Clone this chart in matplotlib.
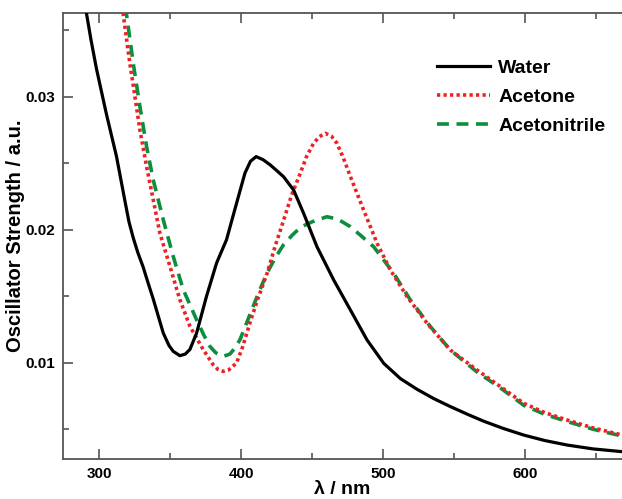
import matplotlib
matplotlib.use("Agg")
import matplotlib.pyplot as plt
from matplotlib.ticker import MultipleLocator, FixedLocator
from matplotlib import font_manager

# ---- data ----
water_x = [290.0, 294.0, 297.9, 304.9, 312.0, 317.9, 320.8, 323.8, 327.0, 330.8, 334.0,
           337.9, 345.0, 349.0, 352.0, 356.7, 360.5, 363.8, 368.5, 375.5, 382.6, 389.6,
           396.7, 402.6, 406.5, 410.5, 415.5, 420.5, 425.0, 429.9, 436.9, 444.0, 453.4,
           465.2, 477.0, 488.7, 500.5, 512.3, 524.0, 535.8, 547.5, 560.0, 571.0, 585.0,
           599.2, 614.0, 629.8, 648.0, 668.8]
water_y = [0.0368, 0.0343, 0.0321, 0.0287, 0.02552, 0.0222, 0.0206, 0.0194, 0.0183, 0.0172,
           0.0161, 0.0148, 0.01223, 0.01130, 0.01086, 0.01053, 0.01065, 0.0110, 0.01223,
           0.0150, 0.0175, 0.01925, 0.0220, 0.02426, 0.02515, 0.02550, 0.02526, 0.02487,
           0.02445, 0.02398, 0.02299, 0.02123, 0.01872, 0.01622, 0.01396, 0.01171, 0.00995,
           0.0088, 0.0080, 0.0073, 0.0067, 0.0061, 0.00560, 0.00505, 0.00456, 0.00415,
           0.00381, 0.00352, 0.00331]

acetone_x = [316.0, 321.4, 325.0, 328.5, 333.2, 337.9, 342.6, 349.7, 356.7, 363.8, 373.2,
             380.2, 383.5, 387.3, 391.0, 396.7, 401.0, 406.1, 412.0, 418.2, 424.0, 429.9,
             435.5, 441.6, 446.0, 451.0, 455.0, 459.3, 463.5, 467.5, 472.0, 477.0, 486.3,
             495.8, 505.2, 517.0, 531.1, 547.5, 566.3, 582.8, 599.2, 614.0, 629.8, 648.0,
             668.8]
acetone_y = [0.0368, 0.03253, 0.03003, 0.02752, 0.02477, 0.02226, 0.01975, 0.01725, 0.01474,
             0.01274, 0.01098, 0.00985, 0.00950, 0.00935, 0.00945, 0.00998, 0.01120, 0.0130,
             0.01490, 0.01672, 0.01880, 0.02073, 0.02260, 0.02424, 0.02550, 0.0265, 0.02700,
             0.02725, 0.02705, 0.0265, 0.02540, 0.02399, 0.02148, 0.01898, 0.01697, 0.01496,
             0.01296, 0.01095, 0.00945, 0.0082, 0.00695, 0.00625, 0.00569, 0.00510, 0.00456]

acn_x = [318.3, 323.8, 328.5, 333.2, 337.9, 345.0, 352.0, 359.1, 368.5, 373.5, 377.9,
         382.0, 387.3, 392.0, 395.5, 399.1, 406.4, 412.0, 418.0, 424.0, 430.0, 436.0,
         442.0, 450.0, 460.4, 468.0, 477.0, 485.0, 493.4, 507.5, 519.3, 533.4, 547.5,
         566.3, 582.8, 599.2, 614.0, 629.8, 648.0, 668.8]
acn_y = [0.0368, 0.03253, 0.02928, 0.02627, 0.02376, 0.02075, 0.018, 0.01549, 0.01323,
         0.01210, 0.01123, 0.01075, 0.01048, 0.01065, 0.01110, 0.01173, 0.0137, 0.0152,
         0.0167, 0.0179, 0.0189, 0.0196, 0.0202, 0.0206, 0.02098, 0.02080, 0.02023,
         0.01950, 0.01872, 0.01672, 0.01471, 0.01271, 0.01095, 0.0093, 0.0081, 0.0068,
         0.00612, 0.00558, 0.00500, 0.00448]

labels = ["Water", "Acetone", "Acetonitrile"]
x_ticks = [300, 400, 500, 600]
y_ticks = [0.01, 0.02, 0.03]
y_tick_labels = ["0.01", "0.02", "0.03"]

# ---- font ----
names = {f.name for f in font_manager.fontManager.ttflist}
fam = "Liberation Sans Narrow" if "Liberation Sans Narrow" in names else "Liberation Sans"
plt.rcParams["font.family"] = [fam, "DejaVu Sans"]
plt.rcParams["font.weight"] = "bold"

fig = plt.figure(figsize=(6.22, 4.99), dpi=100)
ax = fig.add_axes([63.3 / 622, 40 / 499, 1 - 63.3 / 622, (459 - 13) / 499])

l3, = ax.plot(acn_x, acn_y, color="#0b8f3e", lw=2.6, dashes=(3.3, 2.1), zorder=2)
l2, = ax.plot(acetone_x, acetone_y, color="#ee2024", lw=2.6, dashes=(0.9, 0.9), zorder=3)
l1, = ax.plot(water_x, water_y, color="black", lw=2.3, zorder=4)

ax.set_xlim(274.5, 668.5)
ax.set_ylim(0.00276, 0.0363)

ax.xaxis.set_major_locator(FixedLocator(x_ticks))
ax.xaxis.set_minor_locator(MultipleLocator(50))
ax.yaxis.set_major_locator(FixedLocator(y_ticks))
ax.set_yticklabels(y_tick_labels)
ax.yaxis.set_minor_locator(MultipleLocator(0.005))

spine_c = "#555555"
for s in ["left", "bottom", "top"]:
    ax.spines[s].set_color(spine_c)
    ax.spines[s].set_linewidth(1.3)
ax.spines["right"].set_visible(False)

ax.tick_params(which="both", direction="in", top=True, right=False, color=spine_c,
               width=1.2, labelsize=11, pad=6)
ax.tick_params(which="major", length=7)
ax.tick_params(which="minor", length=4)
for t in ax.get_xticklabels() + ax.get_yticklabels():
    t.set_fontweight("bold")

ax.set_xlabel("λ / nm", fontsize=14, fontweight="bold", va="center")
ax.xaxis.set_label_coords(0.5, -(490 - 459) / 446)
ax.set_ylabel("Oscillator Strength / a.u.", fontsize=14.5, fontweight="bold", va="center")
ax.yaxis.set_label_coords(-(63.3 - 16) / 558.7, 0.5)

leg = ax.legend([l1, l2, l3], labels, loc="upper left",
                bbox_to_anchor=(437 / 622, 1 - 59 / 499), bbox_transform=fig.transFigure,
                frameon=False, fontsize=14, handlelength=2.7, handletextpad=0.45,
                labelspacing=0.6, borderaxespad=0, borderpad=0)
for t in leg.get_texts():
    t.set_fontweight("bold")

fig.savefig("out.png", dpi=100)
